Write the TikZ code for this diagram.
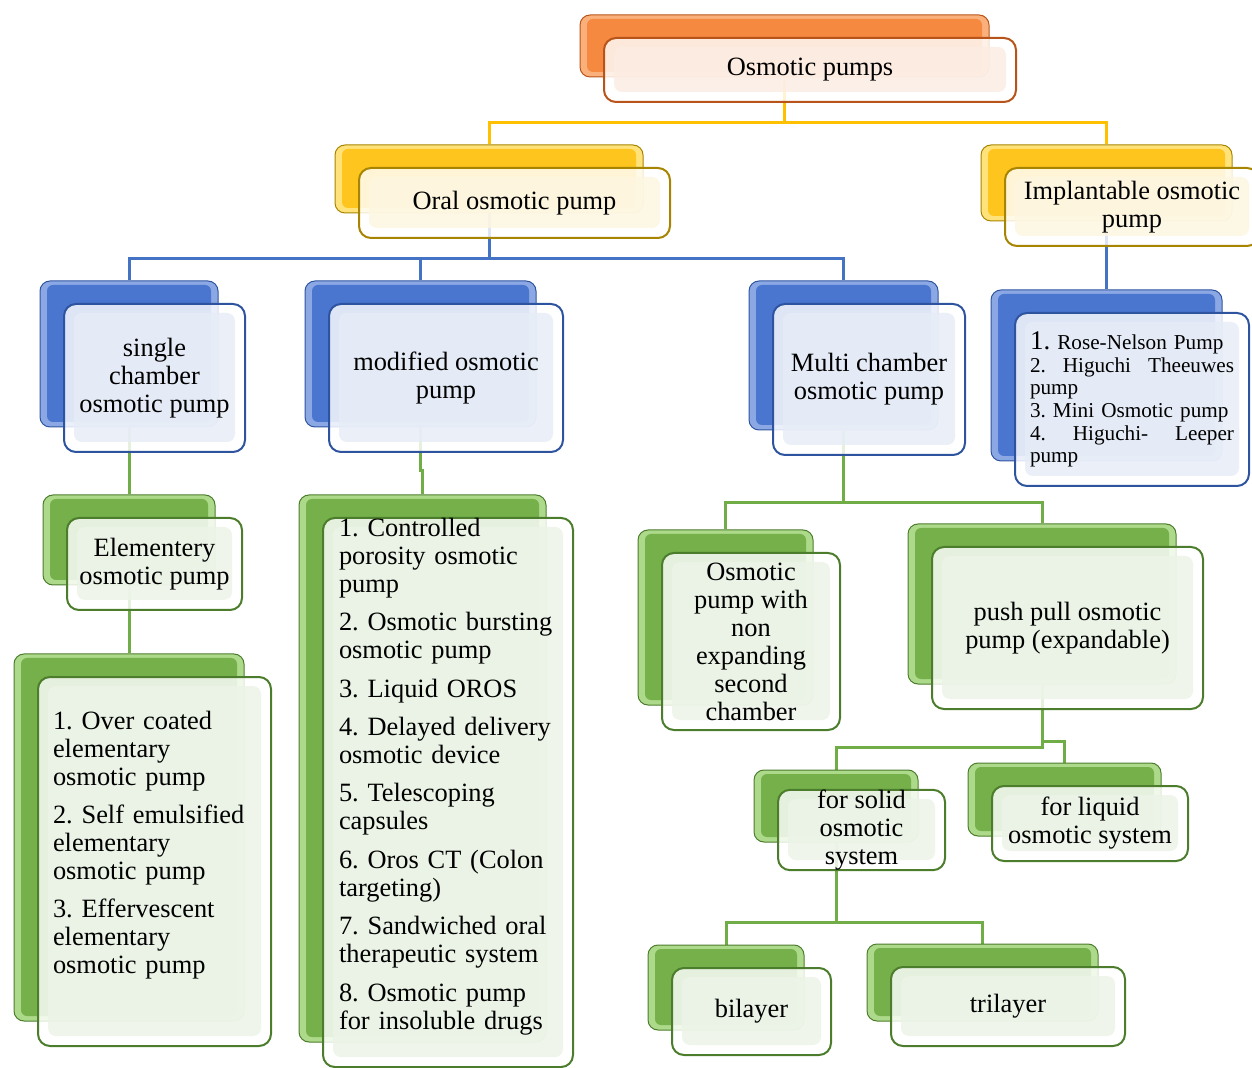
\documentclass[tikz,border=0pt]{standalone}
\usepackage{fontspec}
\setmainfont{Liberation Serif}
\frenchspacing
\pgfdeclarelayer{bg}
\pgfsetlayers{bg,main}
\definecolor{orM}{HTML}{F4893F}\definecolor{orD}{HTML}{B8541A}\definecolor{orL}{HTML}{F9B07A}\definecolor{orT}{HTML}{FCECE2}
\definecolor{yeM}{HTML}{FFC51F}\definecolor{yeD}{HTML}{A88500}\definecolor{yeL}{HTML}{FFE27A}\definecolor{yeT}{HTML}{FDF6E0}
\definecolor{blM}{HTML}{4A76CF}\definecolor{blD}{HTML}{2E54A0}\definecolor{blL}{HTML}{8BA8E4}\definecolor{blT}{HTML}{E7EDF7}
\definecolor{grM}{HTML}{75B04A}\definecolor{grD}{HTML}{4C7D2C}\definecolor{grL}{HTML}{ADDA8A}\definecolor{grT}{HTML}{ECF4E7}
\definecolor{lineY}{HTML}{FFC000}\definecolor{lineB}{HTML}{4472C4}\definecolor{lineG}{HTML}{70AD47}
\newcommand\nsz{\fontsize{13.2}{14}\selectfont\frenchspacing}
\newcommand\ssz{\fontsize{10.6}{11.3}\selectfont\frenchspacing}
\newcommand\jline[1]{\leavevmode\hbox to 102pt{#1}}
\tikzset{
  backbox/.style={rounded corners=5pt, draw=#1D, line width=0.5pt, fill=#1L, inner sep=0pt,
    path picture={\fill[#1M, rounded corners=3pt] ([shift={(3.5pt,-2pt)}]path picture bounding box.north west) rectangle ([shift={(-3.5pt,2.5pt)}]path picture bounding box.south east);}},
  frontbox/.style={rounded corners=6pt, draw=#1D, line width=1pt, fill=white, fill opacity=0.82, text opacity=1, inner sep=0pt, font=\nsz, align=center,
    path picture={\fill[#1T, rounded corners=4pt] ([shift={(5pt,-4.5pt)}]path picture bounding box.north west) rectangle ([shift={(-5pt,5pt)}]path picture bounding box.south east);}},
  conn/.style={line width=1.5pt, draw=#1},
}
% [opts] name scheme x1 y1 x2 y2 text
\newcommand\mybox[8][]{%
  \node[backbox=#3, minimum width={(#6-#4-3)*0.5pt}, minimum height={(#7-#5-2)*0.5pt}] (#2-b) at ({(#4+#6-51)/2},{(#5+#7-48)/2}) {};
  \node[frontbox=#3, minimum width={(#6-#4)*0.5pt}, minimum height={(#7-#5)*0.5pt}, #1] (#2) at ({(#4+#6)/2},{(#5+#7)/2}) {#8};
}
\begin{document}
\begin{tikzpicture}[x=0.5pt,y=-0.5pt]
\useasboundingbox (0,0) rectangle (1252,1068);
\clip (0,0) rectangle (1252,1068);
\mybox{op}{or}{604}{38}{1016}{102}{Osmotic pumps}
\mybox{oral}{ye}{359}{168}{670}{238}{Oral osmotic pump}
\mybox{impl}{ye}{1005}{168}{1259}{246}{Implantable osmotic\\pump}
\mybox{single}{bl}{64}{304}{245}{452}{single\\chamber\\osmotic pump}
\mybox{modified}{bl}{329}{304}{563}{452}{modified osmotic\\pump}
\mybox{multi}{bl}{773}{304}{965}{455}{Multi chamber\\osmotic pump}
\mybox[align=left, text width=102pt, font=\ssz]{implist}{bl}{1015}{313}{1249}{486}{%
\jline{{\fontsize{13.5}{11.3}\selectfont 1.} Rose-Nelson Pump\hfil}\\
\jline{2.\hfill Higuchi\hfill Theeuwes}\\
pump\\
3. Mini Osmotic pump\\
\jline{4.\hfill Higuchi-\hfill Leeper}\\
pump}
\mybox{elem}{gr}{67}{518}{242}{610}{Elementery\\osmotic pump}
\mybox[align=left, text width=101.5pt]{elist}{gr}{38}{677}{271}{1046}{%
1. Over coated\\elementary\\osmotic pump\\[5pt]
2. Self emulsified\\elementary\\osmotic pump\\[5pt]
3. Effervescent\\elementary\\osmotic pump\\[5pt]\mbox{}}
\mybox[align=left, text width=109pt]{mlist}{gr}{323}{518}{573}{1067}{%
1. Controlled\\porosity osmotic\\pump\\[5.2pt]
2. Osmotic bursting\\osmotic pump\\[5.2pt]
3. Liquid OROS\\[5.2pt]
4. Delayed delivery\\osmotic device\\[5.2pt]
5. Telescoping\\capsules\\[5.2pt]
6. Oros CT (Colon\\targeting)\\[5.2pt]
7. Sandwiched oral\\therapeutic system\\[5.2pt]
8. Osmotic pump\\for insoluble drugs\\[5pt]\mbox{}}
\mybox{nonexp}{gr}{662}{553}{840}{730}{Osmotic\\pump with\\non\\expanding\\second\\chamber}
\mybox{pushpull}{gr}{932}{547}{1203}{709}{push pull osmotic\\pump (expandable)}
\mybox{solid}{gr}{778}{793}{945}{867}{for solid\\osmotic\\system}
\mybox{liquid}{gr}{992}{786}{1188}{861}{for liquid\\osmotic system}
\mybox{bilayer}{gr}{672}{968}{831}{1055}{bilayer}
\mybox{trilayer}{gr}{891}{967}{1125}{1046}{trilayer}
\begin{pgfonlayer}{bg}
\draw[conn=lineY] (op-b.south) -- ++(0,45) -| (oral-b.north);
\draw[conn=lineY] (op-b.south) -- ++(0,45) -| (impl-b.north);
\draw[conn=lineB] (oral-b.south) -- ++(0,45) -| (single-b.north);
\draw[conn=lineB] (oral-b.south) -- ++(0,45) -| (modified-b.north);
\draw[conn=lineB] (oral-b.south) -- ++(0,45) -| (multi-b.north);
\draw[conn=lineB] (impl-b.south) -- (implist-b.north);
\draw[conn=lineG] (single-b.south) -- (elem-b.north);
\draw[conn=lineG] (elem-b.south) -- (elist-b.north);
\draw[conn=lineG] (modified-b.south) -- ++(0,43) -| (mlist-b.north);
\draw[conn=lineG] (multi-b.south) -- ++(0,72) -| (nonexp-b.north);
\draw[conn=lineG] (multi-b.south) -- ++(0,72) -| (pushpull-b.north);
\draw[conn=lineG] (pushpull-b.south) -- ++(0,63) -| (solid-b.north);
\draw[conn=lineG] (pushpull-b.south) -- ++(0,57) -| (liquid-b.north);
\draw[conn=lineG] (solid-b.south) -- ++(0,80) -| (bilayer-b.north);
\draw[conn=lineG] (solid-b.south) -- ++(0,80) -| (trilayer-b.north);
\end{pgfonlayer}
\end{tikzpicture}
\end{document}
